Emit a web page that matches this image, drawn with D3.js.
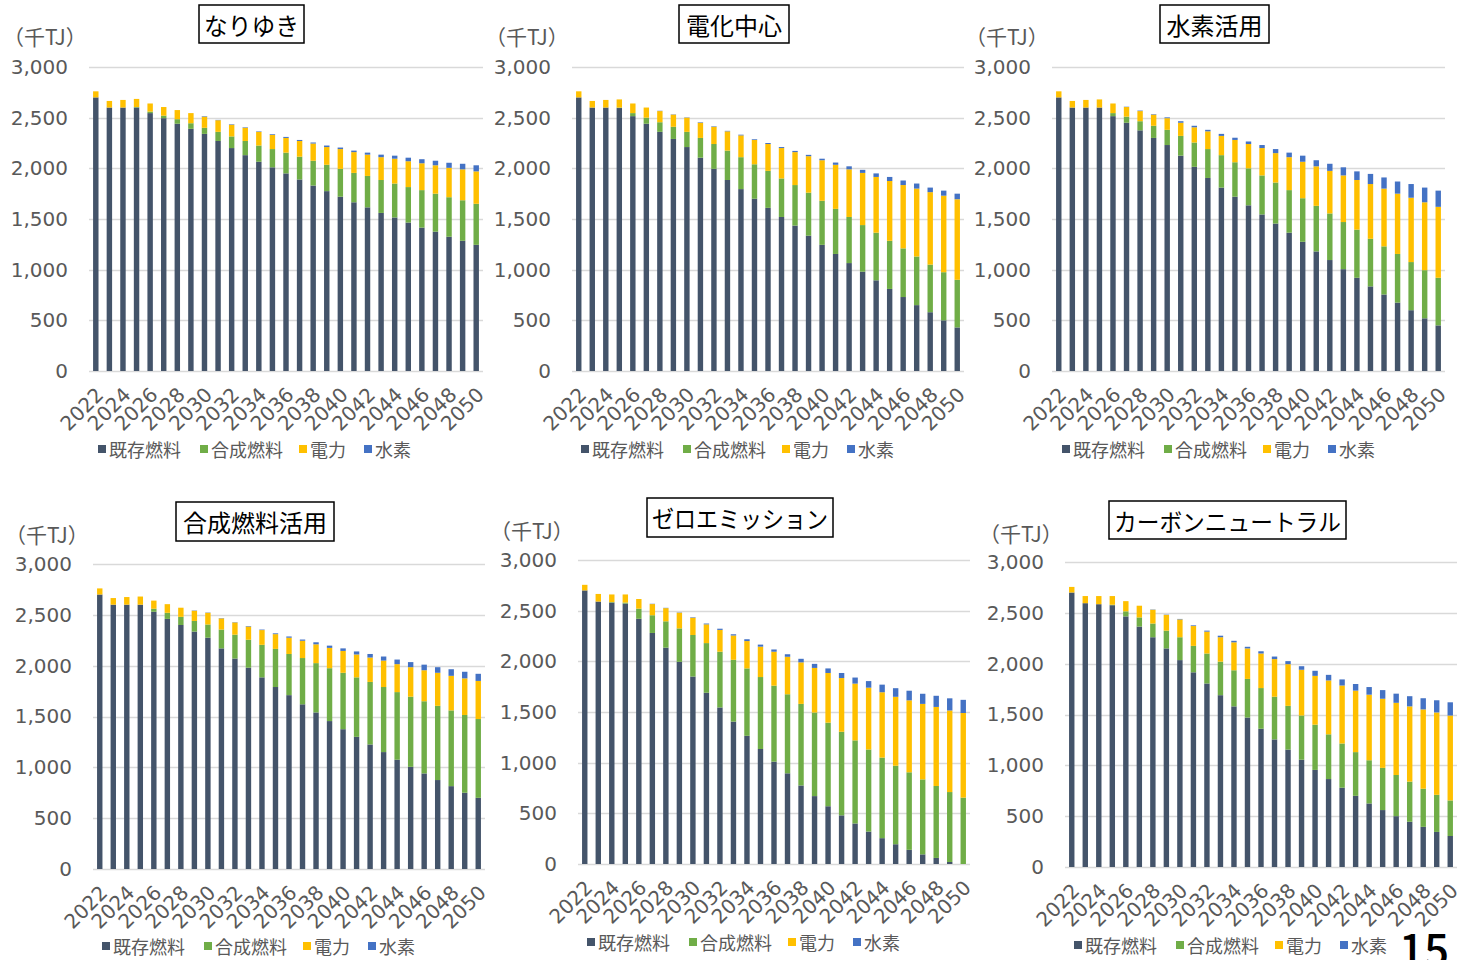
<!DOCTYPE html>
<html><head><meta charset="utf-8">
<script src="https://cdn.jsdelivr.net/npm/d3@7"></script>
<style>
html,body{margin:0;padding:0;background:#fff;}
svg{display:block;}
</style></head>
<body>
<svg id="chart" width="1464" height="960"></svg>
<script>
// ---- categories & legend ----
const years = ["2022","2023","2024","2025","2026","2027","2028","2029","2030","2031","2032","2033","2034","2035","2036","2037","2038","2039","2040","2041","2042","2043","2044","2045","2046","2047","2048","2049","2050"];
const seriesNames = ["既存燃料","合成燃料","電力","水素"];
const yTicks = [0,500,1000,1500,2000,2500,3000];
const unitLabel = "（千TJ）";
const scenarioTitles = ["なりゆき","電化中心","水素活用","合成燃料活用","ゼロエミッション","カーボンニュートラル"];

// ---- なりゆき ----
const nariyukiExisting = [2700,2600,2600,2600,2545,2495,2440,2390,2340,2270,2200,2130,2065,2010,1950,1890,1830,1775,1720,1665,1615,1560,1515,1465,1415,1375,1325,1285,1245];
const nariyukiSynth    = [0,0,0,5,15,25,45,55,60,90,115,140,160,180,205,225,245,260,275,290,310,325,335,350,370,375,390,400,405];
const nariyukiElec     = [60,65,75,80,80,85,90,100,110,115,115,130,135,140,145,155,170,175,195,205,210,225,245,255,265,280,290,305,320];
const nariyukiH2       = [0,0,0,0,0,0,0,0,5,3,5,5,5,7,10,10,10,15,15,15,20,25,30,35,40,45,50,55,60];
// ---- 電化中心 ----
const denkaExisting = [2700,2600,2600,2595,2515,2440,2360,2290,2210,2105,1995,1885,1795,1700,1610,1520,1435,1335,1245,1155,1065,980,895,810,730,650,580,500,430];
const denkaSynth    = [0,0,0,5,30,60,95,120,150,195,245,290,315,340,365,380,400,425,435,445,455,460,470,475,480,480,470,475,470];
const denkaElec     = [60,65,75,80,95,100,110,120,140,150,170,190,215,240,265,300,325,360,400,435,470,515,550,590,625,670,715,755,795];
const denkaH2       = [0,0,0,0,0,0,3,3,3,5,5,5,7,7,10,10,12,13,15,22,30,30,35,40,45,50,45,50,55];
// ---- 水素活用 ----
const suisoExisting = [2700,2600,2600,2600,2515,2450,2375,2300,2230,2125,2015,1905,1810,1720,1635,1545,1455,1365,1275,1180,1095,1005,920,835,755,675,600,520,450];
const suisoSynth    = [0,0,0,0,30,60,90,120,150,195,240,285,320,340,365,385,405,420,430,450,460,465,475,470,475,480,475,475,470];
const suisoElec     = [60,65,75,80,95,95,100,110,115,130,150,175,190,220,240,270,290,325,360,390,420,460,490,540,570,595,635,670,700];
const suisoH2       = [0,0,0,0,0,3,5,5,8,15,15,15,20,22,25,30,40,45,60,60,70,80,85,100,110,120,135,145,160];
// ---- 合成燃料活用 ----
const goseiExisting = [2700,2600,2600,2600,2530,2460,2400,2335,2275,2170,2070,1980,1885,1790,1710,1620,1540,1455,1375,1300,1225,1150,1075,1005,940,875,815,750,700];
const goseiSynth    = [0,0,0,0,30,60,80,105,130,185,235,275,320,375,405,455,485,520,555,585,615,640,665,690,710,730,745,765,775];
const goseiElec     = [60,65,75,80,80,85,90,100,115,110,120,130,145,145,160,170,185,200,215,225,240,260,275,290,305,325,340,360,375];
const goseiH2       = [0,0,0,0,0,0,0,3,3,3,3,5,5,8,12,12,20,22,25,30,35,40,45,50,55,55,65,65,70];
// ---- ゼロエミッション ----
const zeroExisting = [2700,2590,2580,2570,2420,2280,2135,1995,1850,1690,1545,1405,1265,1135,1010,895,775,670,570,480,400,320,255,195,140,95,60,20,0];
const zeroSynth    = [0,0,5,10,100,175,260,330,410,490,550,610,665,710,750,780,805,825,825,825,820,810,795,775,765,740,710,690,655];
const zeroElec     = [55,75,75,80,95,110,130,155,170,185,215,240,270,300,335,370,410,440,490,530,560,610,645,680,710,745,780,805,835];
const zeroH2       = [0,0,0,0,0,3,3,3,5,8,12,12,18,20,22,25,35,40,45,50,60,65,75,85,95,100,110,120,130];
// ---- カーボンニュートラル ----
const cnExisting = [2700,2595,2585,2575,2465,2365,2260,2150,2035,1915,1805,1690,1580,1470,1360,1255,1155,1055,955,865,780,700,625,560,500,445,395,345,305];
const cnSynth    = [0,0,0,5,50,90,135,175,225,260,295,330,355,380,400,420,430,435,445,440,435,430,425,415,405,395,375,365,350];
const cnElec     = [55,70,80,85,100,115,135,155,175,195,215,240,275,300,340,370,410,450,480,530,570,605,645,680,710,740,780,810,835];
const cnH2       = [0,0,0,0,0,0,3,3,5,7,10,15,15,16,22,25,30,35,50,55,60,65,75,85,90,100,110,120,130];

const pageNumber = "15";

// ---- build tables ----
const scenarioSeries = [
  [nariyukiExisting, nariyukiSynth, nariyukiElec, nariyukiH2],
  [denkaExisting, denkaSynth, denkaElec, denkaH2],
  [suisoExisting, suisoSynth, suisoElec, suisoH2],
  [goseiExisting, goseiSynth, goseiElec, goseiH2],
  [zeroExisting, zeroSynth, zeroElec, zeroH2],
  [cnExisting, cnSynth, cnElec, cnH2]
];

// ---- styles / layout ----
const colors = ["#44546A","#70AD47","#FFC000","#4472C4"];
const FONT = "'Noto Sans CJK JP','Noto Sans',sans-serif";
const NUMFONT = "'DejaVu Sans','Noto Sans CJK JP',sans-serif";
const layout = [
  {x0:89,  x1:483,  yTop:67,  yBot:371, title:{x0:199,x1:304,y0:5,y1:43},    unit:{x:15, y:36},  legend:{x:98,  y:449}},
  {x0:572, x1:964,  yTop:67,  yBot:371, title:{x0:679,x1:789,y0:5,y1:43},    unit:{x:497,y:36},  legend:{x:581, y:449}},
  {x0:1052,x1:1445, yTop:67,  yBot:371, title:{x0:1160,x1:1269,y0:5,y1:43},  unit:{x:977,y:36},  legend:{x:1062,y:449}},
  {x0:93,  x1:485,  yTop:564, yBot:869, title:{x0:176,x1:334,y0:502,y1:541}, unit:{x:17, y:534}, legend:{x:102, y:946}},
  {x0:578, x1:970,  yTop:560, yBot:864, title:{x0:647,x1:833,y0:498,y1:537}, unit:{x:502,y:530}, legend:{x:587, y:942}},
  {x0:1065,x1:1457, yTop:562, yBot:867, title:{x0:1109,x1:1346,y0:501,y1:539},unit:{x:991,y:533}, legend:{x:1074,y:945}}
];
const legendOffsets = [0,102,201,266];

const svg = d3.select("#chart");

scenarioSeries.forEach((series, i) => {
  const L = layout[i];
  const g = svg.append("g");
  const rows = years.map((yr, k) => {
    const r = {year: yr};
    seriesNames.forEach((s, j) => r[s] = series[j][k]);
    return r;
  });
  const stacked = d3.stack().keys(seriesNames)(rows);

  const x = d3.scaleBand().domain(years).range([L.x0, L.x1]).paddingInner(0.6).paddingOuter(0.3);
  const y = d3.scaleLinear().domain([0, 3000]).range([L.yBot, L.yTop]);

  // gridlines
  g.append("g").selectAll("line").data(yTicks).join("line")
    .attr("x1", L.x0).attr("x2", L.x1)
    .attr("y1", d => Math.round(y(d)) + 0.5).attr("y2", d => Math.round(y(d)) + 0.5)
    .attr("stroke", "#D9D9D9").attr("stroke-width", 1.5);

  // y axis labels
  const yAxis = d3.axisLeft(y).tickValues(yTicks).tickFormat(d3.format(",")).tickSize(0).tickPadding(21);
  const ya = g.append("g").attr("transform", `translate(${L.x0},0)`).call(yAxis);
  ya.select(".domain").remove();
  ya.selectAll("text").attr("font-family", NUMFONT).attr("font-size", 20).attr("fill", "#595959");

  // bars
  g.append("g").selectAll("g").data(stacked).join("g")
    .attr("fill", (d, j) => colors[j])
    .selectAll("rect").data(d => d).join("rect")
    .attr("x", d => x(d.data.year))
    .attr("width", x.bandwidth())
    .attr("y", d => y(d[1]))
    .attr("height", d => Math.max(0, y(d[0]) - y(d[1])));

  // x axis labels
  const xAxis = d3.axisBottom(x).tickValues(years.filter((d, k) => k % 2 === 0)).tickSize(0).tickPadding(0);
  const xa = g.append("g").attr("transform", `translate(0,${L.yBot})`).call(xAxis);
  xa.select(".domain").remove();
  xa.selectAll("text")
    .attr("font-family", NUMFONT).attr("font-size", 20).attr("fill", "#595959")
    .attr("text-anchor", "end")
    .attr("dy", "0.35em")
    .attr("transform", "translate(4,20) rotate(-45)");

  // title box
  const t = L.title;
  g.append("rect").attr("x", t.x0).attr("y", t.y0).attr("width", t.x1 - t.x0).attr("height", t.y1 - t.y0)
    .attr("fill", "#fff").attr("stroke", "#000").attr("stroke-width", 1.5);
  const tt = g.append("text").attr("x", (t.x0 + t.x1) / 2).attr("y", (t.y0 + t.y1) / 2)
    .attr("text-anchor", "middle").attr("dominant-baseline", "central")
    .attr("font-family", FONT).attr("font-size", 24).attr("fill", "#000")
    .text(scenarioTitles[i]);
  const maxW = (t.x1 - t.x0) - 10;
  if (tt.node().getComputedTextLength() > maxW) {
    tt.attr("textLength", maxW).attr("lengthAdjust", "spacingAndGlyphs");
  }

  // unit
  g.append("text").attr("x", L.unit.x - 12).attr("y", L.unit.y).attr("dominant-baseline", "central")
    .attr("font-family", FONT).attr("font-size", 21).attr("fill", "#595959")
    .text(unitLabel);

  // legend
  const lg = g.append("g").attr("transform", `translate(${L.legend.x},${L.legend.y})`);
  seriesNames.forEach((s, j) => {
    lg.append("rect").attr("x", legendOffsets[j]).attr("y", -4).attr("width", 8).attr("height", 8).attr("fill", colors[j]);
    lg.append("text").attr("x", legendOffsets[j] + 11).attr("y", 0).attr("dominant-baseline", "central")
      .attr("font-family", FONT).attr("font-size", 18).attr("fill", "#595959").text(s);
  });
});

svg.append("text").attr("x", 1399).attr("y", 966).attr("font-family", FONT)
  .attr("font-size", 44).attr("font-weight", 500).attr("fill", "#000").text(pageNumber);
</script>
</body></html>
